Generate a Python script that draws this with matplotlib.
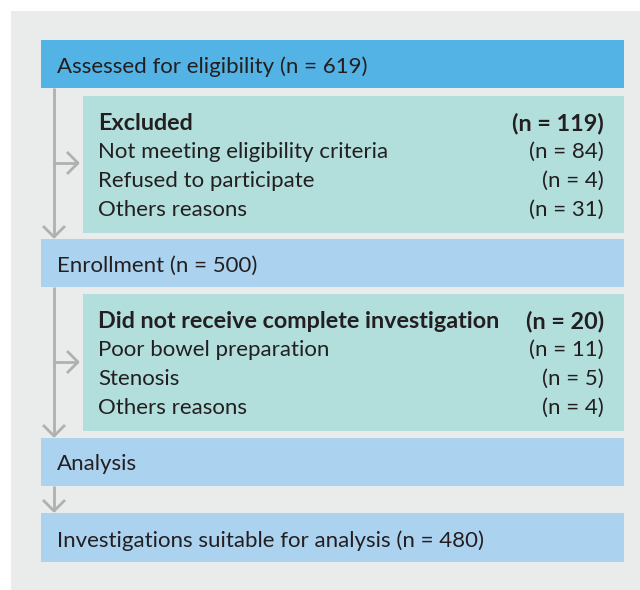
import matplotlib.pyplot as plt
from matplotlib.patches import Rectangle

# flowchart of the study population
assessed_n = 619
enrolled_n = 500
analysed_n = 480

excluded_title = "Excluded"
excluded_n = 119
excluded_reasons = ["Not meeting eligibility criteria", "Refused to participate", "Others reasons"]
excluded_counts = [84, 4, 31]

incomplete_title = "Did not receive complete investigation"
incomplete_n = 20
incomplete_reasons = ["Poor bowel preparation", "Stenosis", "Others reasons"]
incomplete_counts = [11, 5, 4]

panel_col = "#eaebeb"
dark_blue = "#54b3e5"
light_blue = "#abd3f0"
teal = "#b2dedc"
arrow_col = "#b0b0b2"
text_col = "#231f20"

plt.rcParams['font.family'] = ['Lato', 'DejaVu Sans']
FS = 16
FS_BOLD = 16.8


def box(ax, x0, y0, x1, y1, color):
    ax.add_patch(Rectangle((x0, y0), x1 - x0, y1 - y0, facecolor=color, edgecolor="none"))


def down_arrow(ax, x, y0, y1):
    ax.plot([x, x], [y0, y1], color=arrow_col, lw=2, solid_capstyle="butt")
    ax.plot([x - 10, x, x + 10], [y1 - 10, y1, y1 - 10], color=arrow_col, lw=2)


def side_arrow(ax, x0, x1, y):
    ax.plot([x0, x1], [y, y], color=arrow_col, lw=2, solid_capstyle="butt")
    ax.plot([x1 - 10, x1, x1 - 10], [y - 10, y, y + 10], color=arrow_col, lw=2)


def sub_box(ax, top, bottom, title, n, reasons, counts):
    box(ax, 83, top, 624, bottom, teal)
    y = top + 27
    ax.text(98, y, title, fontsize=FS_BOLD, fontweight="bold", va="center", color=text_col)
    ax.text(604, y, "(n = %d)" % n, fontsize=FS_BOLD, fontweight="bold", va="center", ha="right", color=text_col)
    for r, c in zip(reasons, counts):
        y += 29
        ax.text(98, y, r, fontsize=FS, va="center", color=text_col)
        ax.text(604, y, "(n = %d)" % c, fontsize=FS, va="center", ha="right", color=text_col)


fig = plt.figure(figsize=(6.4, 5.9), dpi=100)
ax = fig.add_axes([0, 0, 1, 1])
ax.set_xlim(0, 640)
ax.set_ylim(590, 0)
ax.axis("off")

box(ax, 11, 11, 640, 590, panel_col)

# main boxes
box(ax, 41, 40, 624, 88, dark_blue)
ax.text(57, 67, "Assessed for eligibility (n = %d)" % assessed_n, fontsize=FS, va="center", color=text_col)

box(ax, 41, 239, 624, 287, light_blue)
ax.text(57, 266, "Enrollment (n = %d)" % enrolled_n, fontsize=FS, va="center", color=text_col)

box(ax, 41, 438, 624, 486, light_blue)
ax.text(57, 464, "Analysis", fontsize=FS, va="center", color=text_col)

box(ax, 41, 513, 624, 562, light_blue)
ax.text(57, 541, "Investigations suitable for analysis (n = %d)" % analysed_n, fontsize=FS, va="center", color=text_col)

# arrows
down_arrow(ax, 54, 88, 237)
side_arrow(ax, 54, 78, 163)
down_arrow(ax, 54, 287, 436)
side_arrow(ax, 54, 78, 362)
down_arrow(ax, 54, 486, 511)

sub_box(ax, 96, 233, excluded_title, excluded_n, excluded_reasons, excluded_counts)
sub_box(ax, 294, 431, incomplete_title, incomplete_n, incomplete_reasons, incomplete_counts)

fig.savefig("out.png", dpi=100)
